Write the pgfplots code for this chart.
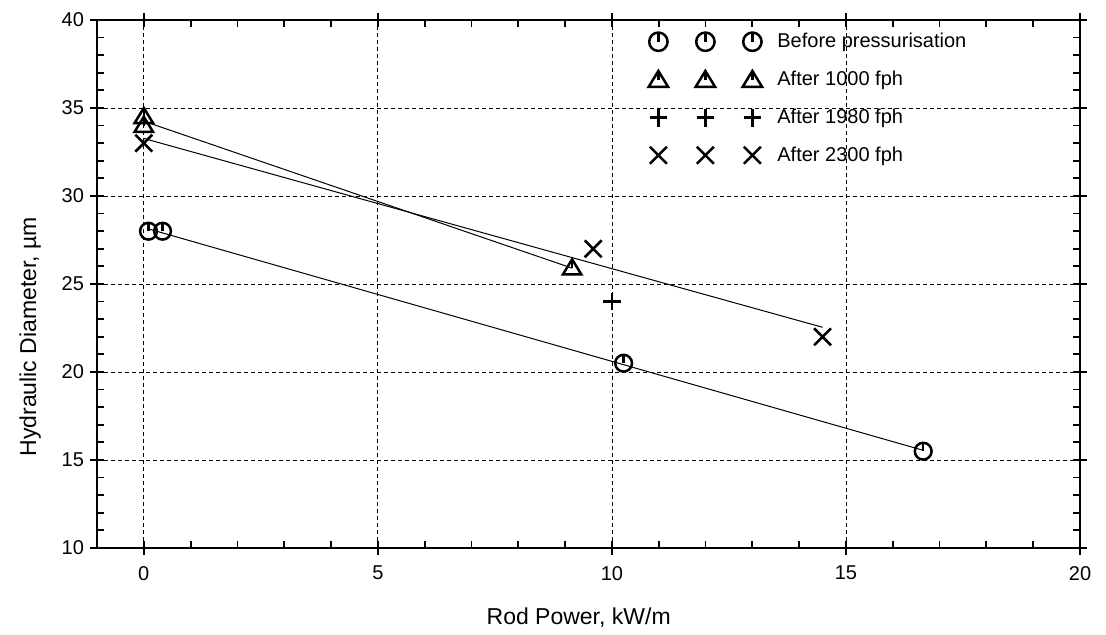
\documentclass[border=0pt]{standalone}
\usepackage{fontspec}
\setmainfont{Liberation Sans}
\usepackage{pgfplots}
\pgfplotsset{compat=1.18}

% markers of the original: circle and triangle with a small "hand"
\pgfdeclareplotmark{clock}{%
  \pgfpathcircle{\pgfpointorigin}{\pgfplotmarksize}%
  \pgfusepathqstroke
  \pgfpathmoveto{\pgfpointorigin}%
  \pgfpathlineto{\pgfpoint{0pt}{\pgfplotmarksize}}%
  \pgfusepathqstroke}
\pgfdeclareplotmark{tri}{%
  \pgfpathmoveto{\pgfpoint{-1.1\pgfplotmarksize}{-0.75\pgfplotmarksize}}%
  \pgfpathlineto{\pgfpoint{1.1\pgfplotmarksize}{-0.75\pgfplotmarksize}}%
  \pgfpathlineto{\pgfpoint{0pt}{1.05\pgfplotmarksize}}%
  \pgfpathclose
  \pgfusepathqstroke
  \pgfpathmoveto{\pgfpoint{0pt}{1.05\pgfplotmarksize}}%
  \pgfpathlineto{\pgfpoint{0pt}{0pt}}%
  \pgfusepathqstroke}

\begin{document}
\begin{tikzpicture}
\begin{axis}[
    name=ax,
    scale only axis,
    width=491.5pt, height=264pt,
    xmin=-1, xmax=20, ymin=10, ymax=40,
    xtick={0,5,...,20}, ytick={10,15,...,40},
    minor x tick num=4, minor y tick num=4,
    tick align=inside,
    major tick length=3.5pt, minor tick length=3.5pt,
    extra x ticks={0,5,10,15,20}, extra x tick labels={},
    extra y ticks={10,15,20,25,30,35,40}, extra y tick labels={},
    extra tick style={tick align=outside, grid=none},
    every tick/.style={black, line width=0.9pt},
    axis line style={line width=1pt},
    grid=major,
    major grid style={black, line width=0.4pt, dash pattern=on 2pt off 1.5pt},
    /pgf/number format/assume math mode=true,
    tick label style={font=\fontsize{10}{12}\selectfont},
    xticklabel style={yshift=-5.5pt},
    yticklabel style={xshift=-3pt},
    xlabel={Rod Power, kW/m},
    ylabel={Hydraulic Diameter, µm},
    label style={font=\fontsize{11.5}{13}\selectfont},
    xlabel style={at={(axis description cs:0.49,-0.1326)}, anchor=center},
    ylabel style={at={(axis description cs:-0.068,0.40)}, anchor=center},
    legend cell align=left,
    legend style={draw=none, fill=none, inner sep=0pt,
      at={(axis description cs:0.5605,0.977)}, anchor=north west,
      font=\fontsize{10}{12}\selectfont,
      row sep=10pt,
      nodes={inner sep=0pt}},
    legend image code/.code={%
      \path[#1, draw=none] plot[only marks] coordinates {(0pt,0pt) (23.5pt,0pt) (47pt,0pt)};
      \path[draw=none, fill=none] (-5pt,0pt) -- (59.5pt,0pt);
    },
    mark options={solid, draw=black, line width=1.25pt},
]
% fitted lines
\addplot[forget plot, line width=0.5pt] coordinates {(0.1,28.13) (16.65,15.55)};
\addplot[forget plot, line width=0.5pt] coordinates {(0,34.25) (9.15,25.9)};
\addplot[forget plot, line width=0.5pt] coordinates {(0,33.27) (14.5,22.54)};

\addplot[only marks, mark=clock, mark size=4.2pt,
  legend image post style={mark size=4.6pt}] coordinates {
  (0.1,28) (0.4,28) (10.25,20.5) (16.65,15.5)};
\addlegendentry{Before pressurisation}
\addplot[only marks, mark=tri, mark size=4.2pt,
  legend image post style={mark size=4.4pt}] coordinates {
  (0,34.5) (0,34.0) (9.15,25.9)};
\addlegendentry{After 1000 fph}
\addplot[only marks, mark=+, mark size=4.3pt,
  legend image post style={mark size=4.4pt}] coordinates {
  (10.0,24.0)};
\addlegendentry{After 1980 fph}
\addplot[only marks, mark=x, mark size=6pt,
  legend image post style={mark size=6pt}] coordinates {
  (0,33.0) (9.6,27.0) (14.5,22.0)};
\addlegendentry{After 2300 fph}
\end{axis}
\path ([xshift=-48.5pt, yshift=-43.5pt]ax.south west) rectangle ([xshift=13pt, yshift=10pt]ax.north east);
\end{tikzpicture}
\end{document}
